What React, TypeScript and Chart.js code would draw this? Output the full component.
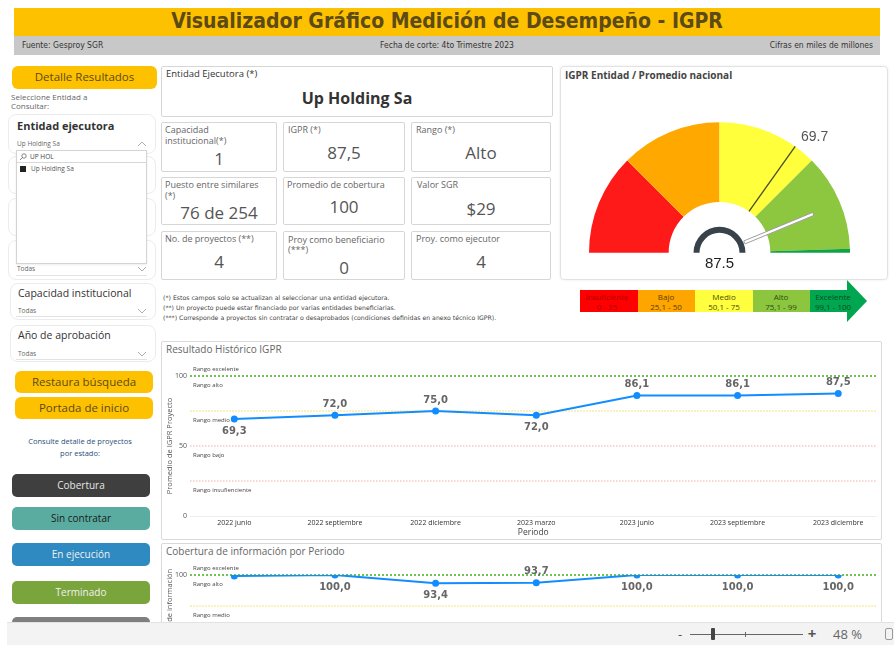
import React, { useEffect, useRef } from "react";
import { Chart, registerables } from "chart.js";
Chart.register(...registerables);

// ---------- data ----------
const periods = ["2022 junio", "2022 septiembre", "2022 diciembre", "2023 marzo", "2023 junio", "2023 septiembre", "2023 diciembre"];
const igprHistory = [69.3, 72.0, 75.0, 72.0, 86.1, 86.1, 87.5];
const igprLabelSide = ["below", "above", "above", "below", "above", "above", "above"];
const coverageHistory = [99.1, 100.0, 93.4, 93.7, 100.0, 100.0, 100.0];
const coverageLabelSide = ["none", "below", "below", "above", "below", "below", "below"];
const bandLines = [100, 75, 50, 25];
const bandNames = ["Rango excelente", "Rango alto", "Rango medio", "Rango bajo", "Rango insufienciente"];
const gaugeRangeWidths = [25, 25, 25, 24, 1];
const gaugeRangeNames = ["Insuficiente", "Bajo", "Medio", "Alto", "Excelente"];
const gaugeRangeText = ["0 - 25", "25,1 - 50", "50,1 - 75", "75,1 - 99", "99,1 - 100"];
const entityIgpr = 87.5;
const nationalAvg = 69.7;
const yTicksValues = [0, 50, 100];

// ---------- styles ----------
const FONT = '"Open Sans", "Noto Sans", sans-serif';
const VERD = '"DejaVu Sans", Verdana, sans-serif';
const COND = '"DejaVu Sans Condensed", "Liberation Sans Narrow", "DejaVu Sans", sans-serif';
const GOLD = "#fdc100";
const gaugeColors = ["#ff1a1a", "#ffa800", "#ffff3b", "#8dc63f", "#10a346"];
const legendColors = ["#ff0000", "#ffa500", "#ffff40", "#8cc63f", "#00a650"];
const legendTextColors = ["#b00000", "#5a3d00", "#4d4d00", "#2d4d0f", "#004d20"];
const refStyles = [
  { c: "#6fc255", w: 2, d: [2, 2] },
  { c: "#f8f3bd", w: 2, d: [2, 1] },
  { c: "#f2adad", w: 1.2, d: [1.5, 1.5] },
  { c: "#f2adad", w: 1.2, d: [1.5, 1.5] },
];

type TP = { x: number; y: number; s: number; c?: string; b?: boolean; f?: string; al?: "left" | "center" | "right"; w?: number; lh?: number; children: React.ReactNode; z?: number };
function T({ x, y, s, c = "#333", b, f = FONT, al = "left", w = 300, lh, children, z }: TP) {
  const L = lh ?? s * 1.25;
  let left = x;
  if (al === "center") left = x - w / 2;
  if (al === "right") left = x - w;
  return (
    <div style={{ position: "absolute", left, top: y - L / 2, width: w, lineHeight: L + "px", fontSize: s, color: c, fontWeight: b ? 700 : 400, fontFamily: f, textAlign: al, whiteSpace: "nowrap", zIndex: z }}>
      {children}
    </div>
  );
}
type BP = { x: number; y: number; w: number; h: number; bg?: string; bd?: string; r?: number; sh?: string; z?: number; children?: React.ReactNode };
function B({ x, y, w, h, bg = "transparent", bd, r = 0, sh, z, children }: BP) {
  return (
    <div style={{ position: "absolute", left: x, top: y, width: w, height: h, boxSizing: "border-box", background: bg, border: bd ? `1px solid ${bd}` : undefined, borderRadius: r, boxShadow: sh, zIndex: z }}>
      {children}
    </div>
  );
}
function Chev({ x, y, up }: { x: number; y: number; up?: boolean }) {
  return (
    <svg style={{ position: "absolute", left: x - 5, top: y - 3 }} width={10} height={6}>
      <polyline points={up ? "1,5 5,1 9,5" : "1,1 5,5 9,1"} fill="none" stroke="#999" strokeWidth={0.8} />
    </svg>
  );
}

// ---------- plugins ----------
const gaugePlugin = {
  id: "gaugeMarks",
  afterDatasetsDraw(chart: any) {
    const arc: any = chart.getDatasetMeta(0).data[0];
    const cx = arc.x, cy = arc.y, R = arc.outerRadius, r0 = arc.innerRadius;
    const rIn = (chart.getDatasetMeta(2).data[0] as any).outerRadius;
    const ang = (v: number) => Math.PI + (v / 100) * Math.PI;
    const ctx = chart.ctx;
    ctx.save();
    const a1 = ang(nationalAvg);
    ctx.strokeStyle = "#4a4a2e";
    ctx.lineWidth = 1.3;
    ctx.beginPath();
    ctx.moveTo(cx + r0 * Math.cos(a1), cy + r0 * Math.sin(a1));
    ctx.lineTo(cx + R * Math.cos(a1), cy + R * Math.sin(a1));
    ctx.stroke();
    ctx.fillStyle = "#555";
    ctx.font = '14px "Liberation Sans", Arial, sans-serif';
    ctx.textAlign = "left";
    ctx.textBaseline = "middle";
    ctx.fillText(nationalAvg.toFixed(1), cx + (R + 10) * Math.cos(a1), cy + (R + 10) * Math.sin(a1) - 1);
    const a2 = ang(entityIgpr);
    const nx = Math.cos(a2), ny = Math.sin(a2), px = -ny, py = nx, hw = 1.6;
    const rs = rIn + 1, re = R - 29;
    ctx.beginPath();
    ctx.moveTo(cx + rs * nx + px * hw, cy + rs * ny + py * hw);
    ctx.lineTo(cx + re * nx + px * hw, cy + re * ny + py * hw);
    ctx.lineTo(cx + re * nx - px * hw, cy + re * ny - py * hw);
    ctx.lineTo(cx + rs * nx - px * hw, cy + rs * ny - py * hw);
    ctx.closePath();
    ctx.fillStyle = "#fff";
    ctx.fill();
    ctx.strokeStyle = "#9e9e9e";
    ctx.lineWidth = 1;
    ctx.stroke();
    ctx.fillStyle = "#222";
    ctx.font = '15px "Liberation Sans", Arial, sans-serif';
    ctx.textAlign = "center";
    ctx.fillText(entityIgpr.toFixed(1), cx, cy + 11);
    ctx.restore();
  },
};

const refLinesPlugin = {
  id: "refLines",
  beforeDatasetsDraw(chart: any) {
    const { ctx, chartArea, scales } = chart;
    const y = scales.y;
    ctx.save();
    bandLines.forEach((v, i) => {
      const st = refStyles[i];
      const py = y.getPixelForValue(v);
      ctx.strokeStyle = st.c;
      ctx.lineWidth = st.w;
      ctx.setLineDash(st.d);
      ctx.beginPath();
      ctx.moveTo(chartArea.left, py);
      ctx.lineTo(chartArea.right, py);
      ctx.stroke();
    });
    ctx.setLineDash([]);
    ctx.fillStyle = "#444";
    ctx.font = `6px ${FONT}`;
    ctx.textAlign = "left";
    ctx.textBaseline = "middle";
    bandNames.forEach((name, i) => {
      const py = i === 0 ? y.getPixelForValue(bandLines[0]) - 7 : y.getPixelForValue(bandLines[i - 1]) + 9;
      ctx.fillText(name, chartArea.left + 3, py);
    });
    ctx.restore();
  },
};

const pointLabelsPlugin = {
  id: "pointLabels",
  afterDatasetsDraw(chart: any, _args: any, opts: any) {
    const meta = chart.getDatasetMeta(0);
    const ctx = chart.ctx;
    ctx.save();
    ctx.font = `bold 10px ${VERD}`;
    ctx.fillStyle = "#666";
    ctx.textAlign = "center";
    ctx.textBaseline = "middle";
    meta.data.forEach((pt: any, i: number) => {
      const side = opts.sides[i];
      if (side === "none") return;
      const v = chart.data.datasets[0].data[i].y as number;
      ctx.fillText(v.toFixed(1).replace(".", ","), pt.x, pt.y + (side === "above" ? -11 : 12));
    });
    ctx.restore();
  },
};

function lineChart(canvas: HTMLCanvasElement, values: number[], sides: string[], yTitle: string, padTop: number) {
  return new Chart(canvas, {
    type: "line",
    data: {
      datasets: [
        {
          data: values.map((v, i) => ({ x: i, y: v })),
          borderColor: "#118dff",
          backgroundColor: "#118dff",
          borderWidth: 2,
          pointRadius: 2.5,
          pointHoverRadius: 2.5,
          tension: 0,
        },
      ],
    },
    options: {
      animation: false,
      responsive: true,
      maintainAspectRatio: false,
      events: [],
      layout: { padding: { top: padTop, right: 4, left: 0, bottom: 0 } },
      plugins: { legend: { display: false }, tooltip: { enabled: false }, pointLabels: { sides } } as any,
      scales: {
        x: {
          type: "linear",
          min: -0.44,
          max: 6.38,
          afterFit: (s: any) => { s.height = 23; },
          grid: { display: false, drawTicks: false },
          border: { display: false },
          ticks: {
            stepSize: 1,
            autoSkip: false,
            maxRotation: 0,
            includeBounds: false,
            padding: 3,
            font: { size: 7, family: FONT },
            color: "#333",
            callback: (v: any) => (Number.isInteger(v) && periods[v] ? periods[v] : ""),
          },
          title: { display: true, text: "Periodo", font: { size: 8.5, family: FONT }, color: "#444", padding: { top: 0, bottom: 1 } },
        },
        y: {
          min: 0,
          max: 100,
          afterFit: (s: any) => { s.width = 28; },
          afterBuildTicks: (s: any) => { s.ticks = yTicksValues.map((v) => ({ value: v })); },
          ticks: { font: { size: 7, family: FONT }, color: "#555", padding: 3 },
          grid: { drawTicks: false, color: (c: any) => (c.tick && c.tick.value === 0 ? "#eeeeee" : "rgba(0,0,0,0)") },
          border: { display: false },
          title: { display: true, text: yTitle, font: { size: 7.5, family: FONT }, color: "#555", padding: { top: 3, bottom: 0 } },
        },
      },
    } as any,
    plugins: [refLinesPlugin, pointLabelsPlugin],
  });
}

export default function App() {
  const gaugeRef = useRef<HTMLCanvasElement>(null);
  const histRef = useRef<HTMLCanvasElement>(null);
  const covRef = useRef<HTMLCanvasElement>(null);

  useEffect(() => {
    const gauge = new Chart(gaugeRef.current!, {
      type: "doughnut",
      data: {
        labels: gaugeRangeNames,
        datasets: [
          { data: gaugeRangeWidths, backgroundColor: gaugeColors, borderWidth: 0, weight: 80 } as any,
          { data: [1], backgroundColor: ["rgba(0,0,0,0)"], borderWidth: 0, weight: 25 } as any,
          { data: [1], backgroundColor: ["#37424a"], borderWidth: 0, weight: 6 } as any,
        ],
      },
      options: {
        animation: false,
        responsive: true,
        maintainAspectRatio: false,
        events: [],
        rotation: -90,
        circumference: 180,
        cutout: "15.3%",
        layout: { padding: { left: 28, right: 37, top: 55, bottom: 26 } },
        plugins: { legend: { display: false }, tooltip: { enabled: false } },
      } as any,
      plugins: [gaugePlugin],
    });
    const hist = lineChart(histRef.current!, igprHistory, igprLabelSide, "Promedio de IGPR Proyecto", 18);
    const cov = lineChart(covRef.current!, coverageHistory, coverageLabelSide, "Promedio de cobertura de información", 17);
    return () => {
      gauge.destroy();
      hist.destroy();
      cov.destroy();
    };
  }, []);

  const cardLabel = "#666";
  const cardVal = "#555";
  const cards = [
    { x: 161, y: 122, w: 116, h: 50 },
    { x: 283, y: 122, w: 122, h: 50 },
    { x: 411, y: 122, w: 140, h: 50 },
    { x: 161, y: 177, w: 116, h: 48 },
    { x: 283, y: 177, w: 122, h: 48 },
    { x: 411, y: 177, w: 140, h: 48 },
    { x: 161, y: 231, w: 116, h: 49 },
    { x: 283, y: 231, w: 122, h: 49 },
    { x: 411, y: 231, w: 140, h: 49 },
  ];
  const legendX = [580, 638, 695, 753, 810];
  const legendW = [58, 57, 58, 57, 38];
  const legendCenters = [607, 666, 724, 781, 833];

  return (
    <div style={{ position: "absolute", left: 0, top: 0, width: 894, height: 645, overflow: "hidden", background: "#fff", fontFamily: FONT }}>
      {/* header */}
      <B x={14} y={8} w={866} h={28} bg={GOLD} />
      <T x={447} y={21.5} s={21} b c="#5c4a17" f={COND} al="center" w={820}>Visualizador Gráfico Medición de Desempeño - IGPR</T>
      <B x={14} y={36} w={866} h={19} bg="#c8c8c8" />
      <T x={22} y={45.5} s={8.5} f={COND} c="#333">Fuente: Gesproy SGR</T>
      <T x={447} y={45.5} s={8.5} f={COND} c="#333" al="center" w={300}>Fecha de corte: 4to Trimestre 2023</T>
      <T x={873} y={45.5} s={8.5} f={COND} c="#333" al="right" w={250}>Cifras en miles de millones</T>

      {/* left panel */}
      <B x={12} y={66} w={145} h={23} bg={GOLD} r={6} />
      <T x={84.5} y={77.5} s={11.5} c="#5c4a17" al="center" w={145}>Detalle Resultados</T>
      <T x={11} y={96.5} s={8} c="#666">Seleccione Entidad a</T>
      <T x={11} y={105.5} s={8} c="#666">Consultar:</T>

      <B x={8} y={114} w={148} h={40} bd="#ececec" r={8} />
      <B x={8} y={156} w={148} h={38} bd="#ececec" r={8} />
      <B x={8} y={198} w={148} h={38} bd="#ececec" r={8} />
      <B x={8} y={240} w={148} h={40} bd="#ececec" r={8} />
      <T x={17} y={126} s={11} b c="#333">Entidad ejecutora</T>
      <T x={17} y={144} s={6.5} c="#666">Up Holding Sa</T>
      <Chev x={142} y={144} up />
      <B x={16} y={149.5} w={131} h={1} bg="#dedede" />
      <B x={16} y={150} w={131} h={114} bg="#fff" bd="#d4d4d4" sh="0 1px 2px rgba(0,0,0,0.08)" />
      <svg style={{ position: "absolute", left: 19, top: 153 }} width={8} height={8}>
        <circle cx={5} cy={3} r={2.2} fill="none" stroke="#555" strokeWidth={0.7} />
        <line x1={3.4} y1={4.6} x2={1} y2={7} stroke="#555" strokeWidth={0.7} />
      </svg>
      <T x={30} y={157} s={6.5} c="#444">UP HOL</T>
      <B x={17} y={162} w={129} h={1} bg="#d8d8d8" />
      <B x={20} y={166} w={6} h={6} bg="#222" />
      <T x={31} y={169} s={6.5} c="#555">Up Holding Sa</T>
      <T x={17} y={269} s={6.5} c="#666">Todas</T>
      <Chev x={142} y={269} />
      <B x={16} y={275} w={131} h={1} bg="#e2e2e2" />

      <B x={10} y={283} w={146} h={37} bd="#ececec" r={8} />
      <T x={18} y={294} s={10.5} c="#333">Capacidad institucional</T>
      <T x={18} y={311} s={6.5} c="#666">Todas</T>
      <Chev x={142} y={311} />
      <B x={16} y={316} w={131} h={1} bg="#e2e2e2" />

      <B x={10} y={325} w={146} h={37} bd="#ececec" r={8} />
      <T x={18} y={336} s={10.5} c="#333">Año de aprobación</T>
      <T x={18} y={354} s={6.5} c="#666">Todas</T>
      <Chev x={142} y={354} />
      <B x={16} y={359} w={131} h={1} bg="#e2e2e2" />

      <B x={15} y={371} w={138} h={22} bg={GOLD} r={6} />
      <T x={84} y={382} s={11.5} c="#5c4a17" al="center" w={138}>Restaura búsqueda</T>
      <B x={15} y={397} w={138} h={22} bg={GOLD} r={6} />
      <T x={84} y={408} s={11.5} c="#5c4a17" al="center" w={138}>Portada de inicio</T>
      <T x={80} y={442} s={7.5} c="#1f4e79" al="center" w={150}>Consulte detalle de proyectos</T>
      <T x={80} y={454} s={7.5} c="#1f4e79" al="center" w={150}>por estado:</T>

      <B x={12} y={474} w={138} h={23} bg="#3f3f3f" r={5} />
      <T x={81} y={485.5} s={10} c="#e6e6e6" al="center" w={138}>Cobertura</T>
      <B x={12} y={507} w={138} h={23} bg="#5aaca0" r={5} />
      <T x={81} y={518.5} s={10} c="#1a1a1a" al="center" w={138}>Sin contratar</T>
      <B x={12} y={543} w={138} h={23} bg="#2e8ac0" r={5} />
      <T x={81} y={554.5} s={10} c="#f2f2f2" al="center" w={138}>En ejecución</T>
      <B x={12} y={581} w={138} h={23} bg="#7aa43c" r={5} />
      <T x={81} y={592.5} s={10} c="#f2f2f2" al="center" w={138}>Terminado</T>
      <B x={12} y={617} w={138} h={23} bg="#7f7f7f" r={5} />

      {/* entity card */}
      <B x={161} y={66} w={392} h={51} bd="#d6d6d6" r={2} />
      <T x={166} y={73.5} s={9.5} c="#333">Entidad Ejecutora (*)</T>
      <T x={357} y={98} s={16} b c="#333" al="center" w={380}>Up Holding Sa</T>

      {cards.map((k, i) => (
        <B key={i} x={k.x} y={k.y} w={k.w} h={k.h} bd="#d6d6d6" r={2} />
      ))}
      <T x={165} y={130} s={9} c={cardLabel}>Capacidad</T>
      <T x={165} y={140.5} s={9} c={cardLabel}>institucional(*)</T>
      <T x={219} y={159} s={17} c={cardVal} al="center" w={110}>1</T>
      <T x={288} y={130} s={9} c={cardLabel}>IGPR (*)</T>
      <T x={344} y={153} s={17} c={cardVal} al="center" w={110}>87,5</T>
      <T x={416} y={130} s={9} c={cardLabel}>Rango (*)</T>
      <T x={481} y={153} s={17} c={cardVal} al="center" w={120}>Alto</T>

      <T x={165} y={185} s={9} c={cardLabel}>Puesto entre similares</T>
      <T x={165} y={195.5} s={9} c={cardLabel}>(*)</T>
      <T x={219} y={213} s={17} c={cardVal} al="center" w={110}>76 de 254</T>
      <T x={287} y={185} s={9} c={cardLabel}>Promedio de cobertura</T>
      <T x={344} y={207} s={17} c={cardVal} al="center" w={110}>100</T>
      <T x={417} y={185} s={9} c={cardLabel}>Valor SGR</T>
      <T x={481} y={209} s={17} c={cardVal} al="center" w={120}>$29</T>

      <T x={165} y={239} s={9} c={cardLabel}>No. de proyectos (**)</T>
      <T x={219} y={262} s={17} c={cardVal} al="center" w={110}>4</T>
      <T x={288} y={240} s={9} c={cardLabel}>Proy como beneficiario</T>
      <T x={288} y={250} s={9} c={cardLabel}>(***)</T>
      <T x={344} y={268} s={17} c={cardVal} al="center" w={110}>0</T>
      <T x={416} y={239} s={9} c={cardLabel}>Proy. como ejecutor</T>
      <T x={481} y={262} s={17} c={cardVal} al="center" w={120}>4</T>

      <T x={163} y={298} s={6.2} f={VERD} c="#444">(*) Estos campos solo se actualizan al seleccionar una entidad ejecutora.</T>
      <T x={163} y={308} s={6.2} f={VERD} c="#444">(**) Un proyecto puede estar financiado por varias entidades beneficiarias.</T>
      <T x={163} y={318} s={6.2} f={VERD} c="#444">(***) Corresponde a proyectos sin contratar o desaprobados (condiciones definidas en anexo técnico IGPR).</T>

      {/* gauge panel */}
      <B x={560} y={66} w={328} h={214} bd="#e2e2e2" r={4} sh="0 0 3px rgba(0,0,0,0.08)" />
      <T x={565} y={75} s={10} b c="#444">IGPR Entidad / Promedio nacional</T>
      <div style={{ position: "absolute", left: 561, top: 67, width: 326, height: 212 }}>
        <canvas ref={gaugeRef} />
      </div>
      {gaugeRangeNames.map((n, i) => (
        <B key={"lg" + i} x={legendX[i]} y={290} w={legendW[i]} h={22} bg={legendColors[i]} />
      ))}
      <svg style={{ position: "absolute", left: 847, top: 280 }} width={21} height={42}>
        <polygon points="0,0 20,21 0,42" fill={legendColors[4]} />
      </svg>
      {gaugeRangeNames.map((n, i) => (
        <React.Fragment key={"lt" + i}>
          <T x={legendCenters[i]} y={297} s={8} c={legendTextColors[i]} al="center" w={70}>{n}</T>
          <T x={legendCenters[i]} y={306.5} s={8} c={legendTextColors[i]} al="center" w={70}>{gaugeRangeText[i]}</T>
        </React.Fragment>
      ))}

      {/* historical chart */}
      <B x={161} y={341} w={721} h={199} bd="#d9d9d9" r={2} />
      <T x={166} y={349} s={10} c="#666">Resultado Histórico IGPR</T>
      <div style={{ position: "absolute", left: 162, top: 358, width: 719, height: 181 }}>
        <canvas ref={histRef} />
      </div>

      {/* coverage chart */}
      <B x={161} y={543} w={721} h={140} bd="#d9d9d9" r={2} />
      <T x={166} y={551} s={10} c="#666">Cobertura de información por Periodo</T>
      <div style={{ position: "absolute", left: 162, top: 558, width: 719, height: 164 }}>
        <canvas ref={covRef} />
      </div>

      {/* bottom bar */}
      <div style={{ position: "absolute", left: 7, top: 622, width: 887, height: 23, background: "#f3f3f3", borderTop: "1px solid #e2e2e2", zIndex: 5 }} />
      <T x={680} y={634} s={13} c="#555" al="center" w={12} z={6}>-</T>
      <B x={690} y={634} w={113} h={1} bg="#666" z={6} />
      <B x={711} y={628} w={4} h={12} bg="#444" r={1} z={6} />
      <B x={745} y={632} w={1} h={5} bg="#666" z={6} />
      <T x={812} y={633.5} s={15} b c="#555" al="center" w={14} z={6}>+</T>
      <T x={833} y={634} s={13} c="#666" z={6} w={40}>48 %</T>
      <B x={885} y={628} w={8} h={12} bd="#999" r={2} z={6} />
    </div>
  );
}
